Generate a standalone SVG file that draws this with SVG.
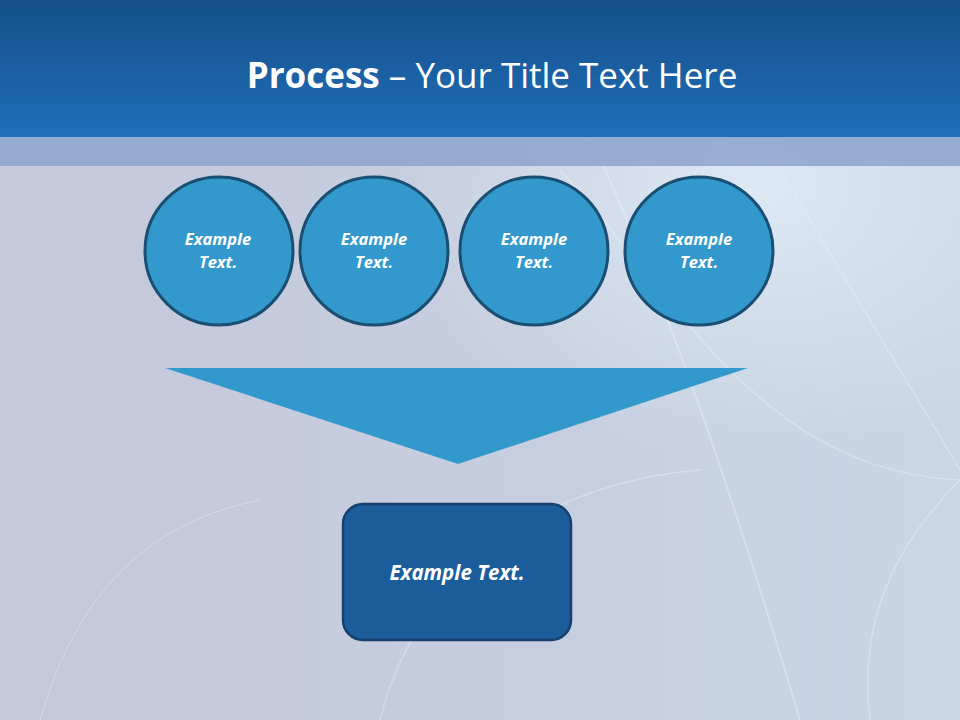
<svg xmlns="http://www.w3.org/2000/svg" width="960" height="720" viewBox="0 0 960 720">
<defs>
<linearGradient id="hdr" x1="0" y1="0" x2="0" y2="1">
<stop offset="0" stop-color="#154F89"/>
<stop offset="1" stop-color="#1F6FBA"/>
</linearGradient>
<linearGradient id="bg" x1="0" y1="0" x2="1" y2="0">
<stop offset="0" stop-color="#C4C9DA"/>
<stop offset="0.55" stop-color="#C6CEDF"/>
<stop offset="1" stop-color="#C8D6E6"/>
</linearGradient>
<radialGradient id="glow" cx="0.78" cy="0.26" r="0.38">
<stop offset="0" stop-color="#E2EEF7" stop-opacity="0.8"/>
<stop offset="1" stop-color="#E2EEF7" stop-opacity="0"/>
</radialGradient>
<style>
.circ{fill:#3399CC;stroke:#1A4E72;stroke-width:3}
.lbl{font-family:"Open Sans","Liberation Sans",sans-serif;font-weight:bold;font-style:italic;fill:#FFFFFF;text-anchor:middle}
.streak{fill:none;stroke:#EAF2FA;stroke-opacity:0.4}
</style>
</defs>
<rect width="960" height="720" fill="url(#bg)"/>
<rect width="960" height="720" fill="url(#glow)"/>
<g>
<path class="streak" stroke-width="2" d="M590 137 C 680 330, 740 520, 800 720"/>
<path class="streak" stroke-width="1.5" d="M760 137 L 960 470"/>
<path class="streak" stroke-width="1.5" d="M560 170 C 680 300, 760 470, 960 480"/>
<path class="streak" stroke-width="1.5" d="M960 480 C 880 560, 860 640, 870 720"/>
<path class="streak" stroke-width="1.5" d="M380 720 C 420 560, 560 480, 700 470"/>
<path class="streak" stroke-width="1" d="M40 720 C 80 580, 160 520, 260 500"/>
</g>
<rect x="0" y="0" width="960" height="137" fill="url(#hdr)"/>
<rect x="0" y="137" width="960" height="29" fill="#8FA6CD" fill-opacity="0.9"/>
<text x="492" y="88" text-anchor="middle" font-family="Open Sans, Liberation Sans, sans-serif" font-size="35" fill="#FFFFFF"><tspan font-weight="bold">Process</tspan> – Your Title Text Here</text>
<g id="n1"><circle class="circ" cx="219" cy="251" r="74"/><text class="lbl" x="218" y="245" font-size="16.5">Example</text><text class="lbl" x="218" y="268" font-size="16.5">Text.</text></g>
<g id="n2"><circle class="circ" cx="374" cy="251" r="74"/><text class="lbl" x="374" y="245" font-size="16.5">Example</text><text class="lbl" x="374" y="268" font-size="16.5">Text.</text></g>
<g id="n3"><circle class="circ" cx="534" cy="251" r="74"/><text class="lbl" x="534" y="245" font-size="16.5">Example</text><text class="lbl" x="534" y="268" font-size="16.5">Text.</text></g>
<g id="n4"><circle class="circ" cx="699" cy="251" r="74"/><text class="lbl" x="699" y="245" font-size="16.5">Example</text><text class="lbl" x="699" y="268" font-size="16.5">Text.</text></g>
<g id="connectors"><polygon points="165,368 748,368 458,464" fill="#3399CC"/></g>
<g id="n5"><rect x="343" y="504" width="228" height="136" rx="20" fill="#1B5C9B" stroke="#173F6E" stroke-width="2.5"/><text class="lbl" x="457" y="580" font-size="20.5">Example Text.</text></g>
</svg>
